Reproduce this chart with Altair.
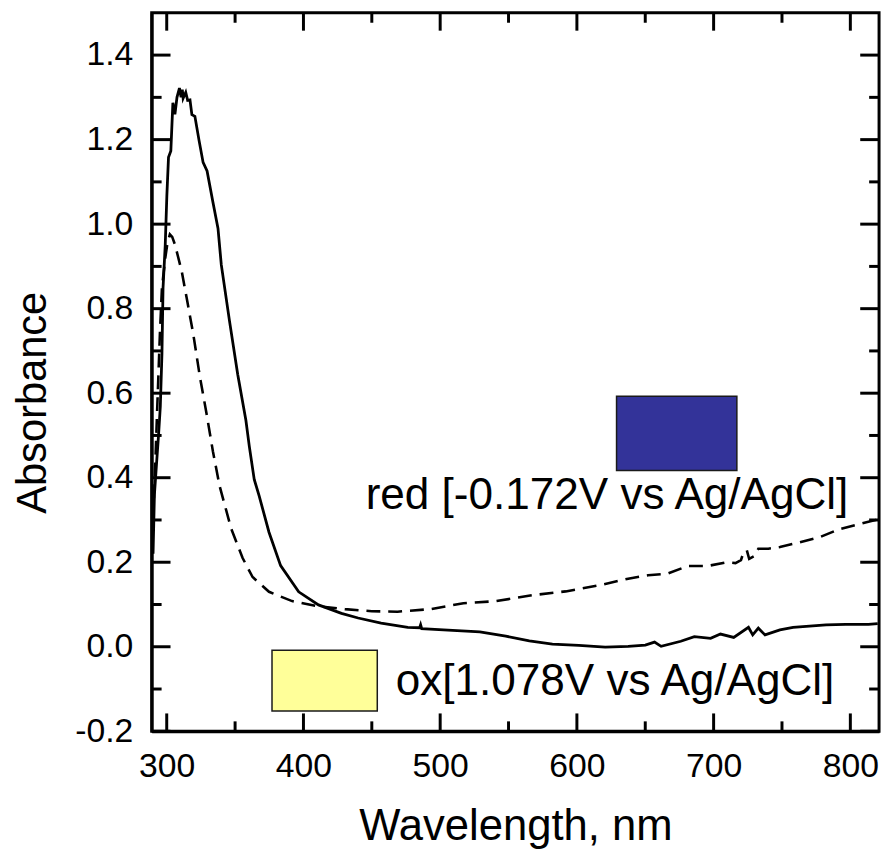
import altair as alt
import pandas as pd

# ---- data ----
solid_w = [290, 291, 292.9, 294.1, 295.3, 296.5, 297.3, 298.9, 300.1, 301.3, 303, 304.5, 306, 307.5,
           309.3, 310.5, 311.4, 312, 313.9, 315.3, 317, 318.4, 320.6, 323.7, 326.6, 329.5, 333.8,
           337.5, 339.9, 345.9, 351.9, 357.9, 360.4, 364, 367.6, 374.8, 383.3, 396.5, 411, 427.8,
           440, 456.8, 476.3, 485, 485.7, 486.5, 502.4, 529, 548, 565.2, 582.1, 601.4, 620.7,
           637.5, 650, 656.8, 661.6, 676, 685.9, 697.8, 705, 714.7, 725.5, 728.6, 732.7, 737.6,
           748.5, 758.1, 767.7, 782.2, 796.6, 813.2, 820]
solid_a = [0.22, 0.36, 0.45, 0.505, 0.568, 0.693, 0.849, 0.95, 1.068, 1.158, 1.173, 1.287, 1.26, 1.30,
           1.322, 1.30, 1.318, 1.298, 1.312, 1.293, 1.294, 1.259, 1.255, 1.197, 1.146, 1.126, 1.052,
           0.99, 0.904, 0.771, 0.645, 0.536, 0.474, 0.396, 0.357, 0.271, 0.192, 0.13, 0.099, 0.079,
           0.068, 0.056, 0.046, 0.045, 0.052, 0.043, 0.04, 0.035, 0.025, 0.014, 0.006, 0.003, -0.001,
           0.001, 0.004, 0.011, 0.001, 0.013, 0.024, 0.02, 0.03, 0.022, 0.046, 0.028, 0.044, 0.028,
           0.04, 0.046, 0.048, 0.052, 0.053, 0.053, 0.055]

dashed_w = [290, 291.5, 293, 295, 296.5, 298.9, 300.5, 302.3, 304, 306.1, 311, 314.6, 319.4, 324.2,
            329.1, 333.8, 338.7, 347.1, 355.5, 362.8, 374.8, 391.7, 408.6, 430.3, 450, 468.8, 492.9,
            517, 541, 567.5, 591.8, 615.8, 637.5, 652, 666.4, 680.9, 695.4, 709.8, 716, 720, 722,
            724.3, 726, 730, 732.7, 740, 748.5, 763, 777.4, 791.8, 806.3, 818.3, 820]
dashed_a = [0.30, 0.42, 0.56, 0.74, 0.849, 0.919, 0.955, 0.976, 0.97, 0.951, 0.888, 0.825, 0.74, 0.64,
            0.552, 0.462, 0.38, 0.28, 0.21, 0.165, 0.13, 0.108, 0.097, 0.089, 0.084, 0.083, 0.089,
            0.103, 0.108, 0.122, 0.131, 0.145, 0.161, 0.169, 0.173, 0.191, 0.191, 0.2, 0.198, 0.205, 0.225,
            0.228, 0.208, 0.215, 0.232, 0.232, 0.236, 0.247, 0.259, 0.278, 0.29, 0.3, 0.302]

x_major = [300, 400, 500, 600, 700, 800]
x_minor = [350, 450, 550, 650, 750]
y_major = [-0.2, 0.0, 0.2, 0.4, 0.6, 0.8, 1.0, 1.2, 1.4]
y_minor = [-0.1, 0.1, 0.3, 0.5, 0.7, 0.9, 1.1, 1.3]

legend_labels = ["red [-0.172V vs Ag/AgCl]", "ox[1.078V vs Ag/AgCl]"]
legend_colors = ["#333399", "#FFFF99"]
box_x1 = [629, 377]
box_x2 = [717, 454]
box_y1 = [0.417, -0.152]
box_y2 = [0.593, -0.008]
text_x = [445.5, 467.5]
text_y = [0.325, -0.113]

W, H = 734, 725
FONT = "Liberation Sans"
XD = [289, 821]
YD = [-0.2, 1.5]
xs = alt.Scale(domain=XD, nice=False, zero=False)
ys = alt.Scale(domain=YD, nice=False, zero=False)

x_axis = alt.Axis(
    values=x_major, format="d", ticks=False, domain=True, domainColor="black", domainWidth=3,
    grid=False,
    labelFontSize=34, labelFont=FONT, labelColor="black", labelPadding=46,
    labelBaseline="alphabetic",
    title="Wavelength, nm", titleFontSize=44, titleFont=FONT, titleFontWeight="normal",
    titleColor="black", titleY=109, titleX=W / 2, titleBaseline="alphabetic")
y_axis = alt.Axis(
    values=y_major, ticks=False, domain=True, domainColor="black", domainWidth=3, grid=False,
    labelExpr="datum.value < 0 ? '-' + format(-datum.value, '.1f') : format(datum.value, '.1f')",
    labelFontSize=34, labelFont=FONT, labelColor="black", labelPadding=19,
    title="Absorbance", titleFontSize=42, titleFont=FONT, titleFontWeight="normal",
    titleColor="black", titleX=-107, titleY=393, titleBaseline="alphabetic")


def X(field):
    return alt.X(field, scale=xs, axis=x_axis)


def Y(field):
    return alt.Y(field, scale=ys, axis=y_axis)


solid = alt.Chart(pd.DataFrame({"w": solid_w, "a": solid_a})).mark_line(
    color="black", strokeWidth=2.8, clip=True
).encode(x=X("w:Q"), y=Y("a:Q"))

dashed = alt.Chart(pd.DataFrame({"w": dashed_w, "a": dashed_a})).mark_line(
    color="black", strokeWidth=2.6, strokeDash=[14, 8], clip=True
).encode(x=X("w:Q"), y=Y("a:Q"))

xmaj = pd.DataFrame({"v": x_major})
xmin = pd.DataFrame({"v": x_minor})
ymaj = pd.DataFrame({"v": y_major})
ymin = pd.DataFrame({"v": y_minor})


def xticks(df, length):
    bot = alt.Chart(df).mark_rule(color="black", strokeWidth=3).encode(
        x=X("v:Q"), y=alt.value(H), y2=alt.value(H - length))
    top = alt.Chart(df).mark_rule(color="black", strokeWidth=3).encode(
        x=X("v:Q"), y=alt.value(0), y2=alt.value(length))
    return [bot, top]


def yticks(df, length):
    left = alt.Chart(df).mark_rule(color="black", strokeWidth=3).encode(
        y=Y("v:Q"), x=alt.value(0), x2=alt.value(length))
    right = alt.Chart(df).mark_rule(color="black", strokeWidth=3).encode(
        y=Y("v:Q"), x=alt.value(W), x2=alt.value(W - length))
    return [left, right]


boxes_df = pd.DataFrame({"x1": box_x1, "x2": box_x2, "y1": box_y1, "y2": box_y2, "c": legend_colors})
boxes = alt.Chart(boxes_df).mark_rect(stroke="#1a1a1a", strokeWidth=1.5).encode(
    x=X("x1:Q"), x2="x2:Q",
    y=Y("y1:Q"), y2="y2:Q",
    fill=alt.Fill("c:N", scale=None),
)

texts_df = pd.DataFrame({"x": text_x, "y": text_y, "t": legend_labels})
texts = alt.Chart(texts_df).mark_text(
    align="left", baseline="alphabetic", fontSize=44.5, font=FONT, color="black"
).encode(x=X("x:Q"), y=Y("y:Q"), text="t:N")

layers = [solid, dashed, boxes, texts] + xticks(xmaj, 18) + xticks(xmin, 10) + \
         yticks(ymaj, 19) + yticks(ymin, 10)

chart = alt.layer(*layers).properties(
    width=W, height=H,
    autosize=alt.AutoSizeParams(type="none"),
    padding={"left": 145, "top": 1, "right": 6, "bottom": 124},
).configure(background="white").configure_view(stroke="black", strokeWidth=3)

chart.save("out.html", embed_options={"renderer": "svg", "actions": False})
